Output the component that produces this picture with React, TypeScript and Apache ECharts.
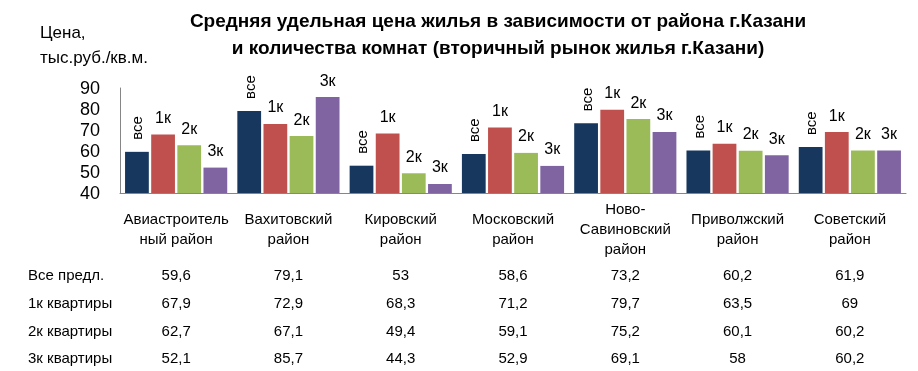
import React, { useEffect, useRef } from "react";
import * as echarts from "echarts";

const districts = [
  "Авиастроитель\nный район",
  "Вахитовский\nрайон",
  "Кировский\nрайон",
  "Московский\nрайон",
  "Ново-\nСавиновский\nрайон",
  "Приволжский\nрайон",
  "Советский\nрайон",
];
const seriesNames = ["все", "1к", "2к", "3к"];
const rowLabels = ["Все предл.", "1к квартиры", "2к квартиры", "3к квартиры"];
const allOffers = [59.6, 79.1, 53, 58.6, 73.2, 60.2, 61.9];
const oneRoom = [67.9, 72.9, 68.3, 71.2, 79.7, 63.5, 69];
const twoRoom = [62.7, 67.1, 49.4, 59.1, 75.2, 60.1, 60.2];
const threeRoom = [52.1, 85.7, 44.3, 52.9, 69.1, 58, 60.2];
const yTicks = [40, 50, 60, 70, 80, 90];
const titleText =
  "Средняя удельная цена жилья в зависимости от района г.Казани\nи количества комнат (вторичный рынок жилья г.Казани)";
const yName = "Цена,\nтыс.руб./кв.м.";

const colors = ["#17375E", "#C0504D", "#9BBB59", "#8064A2"];
const FONT = "'Liberation Sans', Arial, sans-serif";

export default function App() {
  const ref = useRef<HTMLDivElement>(null);
  useEffect(() => {
    if (!ref.current) return;
    const chart = echarts.init(ref.current, null, { renderer: "svg" });
    const values = [allOffers, oneRoom, twoRoom, threeRoom];
    const axisY = 193;
    const rowCenters = [274, 302, 330, 357];
    const rowOffsets = rowCenters.map((c) => c - 10 - axisY);
    const fmt = (v: number) => String(v).replace(".", ",");

    const xAxes: any[] = [
      {
        type: "category",
        data: districts,
        position: "bottom",
        axisLine: { show: true, lineStyle: { color: "#868686", width: 1 } },
        axisTick: { show: false },
        axisLabel: {
          interval: 0,
          color: "#000",
          fontSize: 15,
          fontFamily: FONT,
          lineHeight: 20,
          margin: 35,
          verticalAlign: "middle",
        },
      },
    ];
    values.forEach((arr, r) => {
      xAxes.push({
        type: "category",
        data: districts,
        position: "bottom",
        offset: rowOffsets[r],
        axisLine: { show: false },
        axisTick: { show: false },
        axisLabel: {
          interval: 0,
          color: "#000",
          fontSize: 15,
          fontFamily: FONT,
          lineHeight: 20,
          margin: 0,
          formatter: (_: string, idx: number) => fmt(arr[idx]),
        },
      });
    });

    const graphics: any[] = [
      {
        type: "text",
        x: 498,
        y: 7,
        style: {
          text: titleText,
          textAlign: "center",
          font: `bold 19px ${FONT}`,
          lineHeight: 27,
          fill: "#000",
        },
      },
      {
        type: "text",
        x: 40,
        y: 20,
        style: {
          text: yName,
          textAlign: "left",
          font: `17px ${FONT}`,
          lineHeight: 25,
          fill: "#000",
        },
      },
    ];
    rowLabels.forEach((t, r) => {
      graphics.push({
        type: "text",
        x: 28,
        y: rowCenters[r],
        style: {
          text: t,
          textAlign: "left",
          textVerticalAlign: "middle",
          font: `15px ${FONT}`,
          fill: "#000",
        },
      });
    });

    chart.setOption({
      animation: false,
      grid: { left: 120, right: 12, top: 88, bottom: 371 - axisY, containLabel: false },
      xAxis: xAxes,
      yAxis: {
        type: "value",
        min: yTicks[0],
        max: yTicks[yTicks.length - 1],
        interval: 10,
        axisLine: { show: true, lineStyle: { color: "#868686", width: 1 } },
        axisTick: { show: false },
        splitLine: { show: false },
        axisLabel: {
          color: "#000",
          fontSize: 18,
          fontFamily: FONT,
          margin: 20,
          showMinLabel: true,
          showMaxLabel: true,
          hideOverlap: false,
        },
      },
      series: seriesNames.map((name, i) => ({
        name,
        type: "bar",
        xAxisIndex: 0,
        data: values[i],
        barGap: "10%",
        barCategoryGap: "9%",
        itemStyle: { color: colors[i] },
        label: i === 0
          ? {
              show: true,
              position: "top",
              rotate: 90,
              align: "left",
              verticalAlign: "middle",
              distance: 12,
              formatter: name,
              color: "#000",
              fontSize: 15,
              fontFamily: FONT,
            }
          : {
              show: true,
              position: "top",
              distance: 9,
              formatter: name,
              color: "#000",
              fontSize: 16,
              fontFamily: FONT,
            },
      })),
      graphic: graphics,
    });
    return () => chart.dispose();
  }, []);
  return (
    <div
      ref={ref}
      style={{ position: "fixed", left: 0, top: 0, width: 918, height: 371 }}
    />
  );
}
